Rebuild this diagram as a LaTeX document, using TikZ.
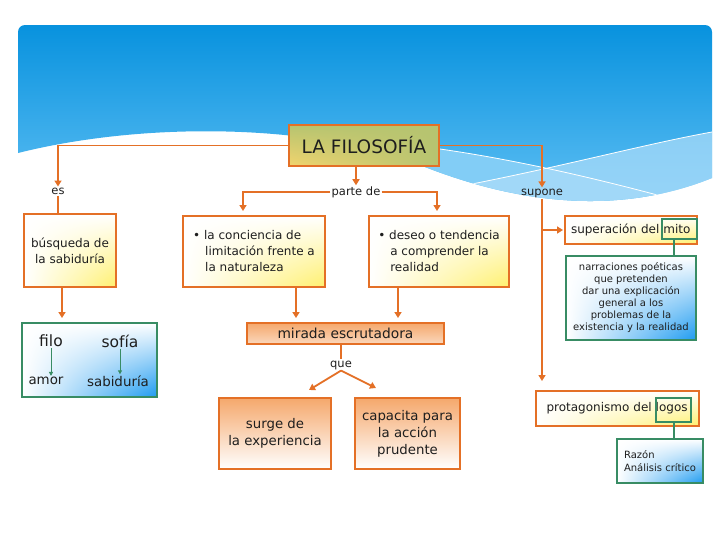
\documentclass[tikz,border=0pt]{standalone}
\usepackage{fontspec}
\setmainfont{DejaVu Sans}
\usetikzlibrary{arrows.meta,positioning,shadings}

\definecolor{orng}{RGB}{228,112,38}
\definecolor{grn}{RGB}{56,140,100}
\definecolor{ylw}{RGB}{255,240,110}
\definecolor{blu}{RGB}{30,155,240}
\definecolor{oliv}{RGB}{182,196,112}
\definecolor{sand}{RGB}{242,212,110}
\definecolor{orfill}{RGB}{245,168,108}
\definecolor{hdtop}{RGB}{8,146,222}
\definecolor{hdbot}{RGB}{100,194,245}
\definecolor{hdwave}{RGB}{130,205,246}
\definecolor{hdwaveb}{RGB}{175,222,250}
\definecolor{ink}{RGB}{30,30,30}

\newcommand\hdpath{(18,153) -- (18,25) -- (712,25) -- (712,178)
  .. controls (620,215) and (520,205) .. (420,165)
  .. controls (320,125) and (150,120) .. (18,153) -- cycle}

\tikzset{
  conn/.style={draw=orng, line width=1.8pt, -{Triangle[width=7pt,length=6pt]}},
  plain/.style={draw=orng, line width=1.8pt},
  gconn/.style={draw=grn, line width=1pt, -{Triangle[width=4pt,length=4pt]}},
  gline/.style={draw=grn, line width=2pt},
  lbl/.style={text=ink, font=\fontsize{11.5}{14}\selectfont, inner sep=1pt},
  ybox/.style={draw=orng, line width=2pt, text=ink, inner sep=0pt,
    font=\fontsize{12}{16}\selectfont, shading=bilinear interpolation,
    upper left=white, upper right=white, lower left=white, lower right=ylw},
  gbox/.style={draw=grn, line width=2pt, text=ink, inner sep=0pt,
    shading=bilinear interpolation,
    upper left=white, upper right=white, lower left=white, lower right=blu},
  obox/.style={draw=orng, line width=2pt, top color=orfill, bottom color=white,
    text=ink, inner sep=0pt, font=\fontsize{13.3}{17}\selectfont},
  markbox/.style={draw=grn, line width=2pt, inner sep=0pt},
}

\begin{document}
\begin{tikzpicture}[x=1pt,y=-1pt]
  \useasboundingbox (0,0) rectangle (728,546);
  \fill[white] (0,0) rectangle (728,546);

  % Header band
  \shade[top color=hdtop, bottom color=hdbot] (18,153) [rounded corners=7pt]
    -- (18,25) -- (712,25) [sharp corners] -- (712,178)
    .. controls (620,215) and (520,205) .. (420,165)
    .. controls (320,125) and (150,120) .. (18,153) -- cycle;
  \begin{scope}
    \clip \hdpath;
    \fill[hdwave] (200,138) .. controls (360,130) and (500,150) .. (712,210)
      -- (712,240) -- (200,240) -- cycle;
    \fill[hdwaveb, opacity=0.7] (440,190) .. controls (550,170) and (640,145) .. (712,132)
      -- (712,240) -- (440,240) -- cycle;
    \draw[white, line width=0.8pt] (200,138) .. controls (360,130) and (500,150) .. (712,210);
    \draw[white, line width=0.8pt] (440,190) .. controls (550,170) and (640,145) .. (712,132);
  \end{scope}

  % Main concept
  \node[draw=orng, line width=2.5pt, text=ink, inner sep=0pt,
    shading=bilinear interpolation,
    upper left=oliv, upper right=oliv, lower left=sand, lower right=oliv,
    minimum width=150pt, minimum height=41pt, font=\fontsize{18.5}{22}\selectfont]
    (filo) at (364,145.5) {LA FILOSOFÍA};

  % Link words
  \node[lbl] (es) at (58,191) {es};
  \node[lbl] (parte) at (356,192) {parte de};
  \node[lbl] (supone) at (542,193) {supone};
  \node[lbl] (que) at (341,365) {que};

  % Left branch
  \node[ybox, minimum width=92pt, minimum height=73pt, align=center]
    (busq) at (70,250.5) {búsqueda de\\la sabiduría};
  \node[gbox, minimum width=135pt, minimum height=74pt] (etym) at (89.5,360) {};
  \node[text=ink, font=\fontsize{15.5}{18}\selectfont, inner sep=1pt] (filoword) at (51,341) {filo};
  \node[text=ink, font=\fontsize{15.5}{18}\selectfont, inner sep=1pt] (sofia) at (120,341) {sofía};
  \node[text=ink, font=\fontsize{13.4}{16}\selectfont, inner sep=1pt] (amor) at (46,381) {amor};
  \node[text=ink, font=\fontsize{13.4}{16}\selectfont, inner sep=1pt] (sabid) at (118,381) {sabiduría};

  % Middle branch
  \node[ybox, minimum width=142pt, minimum height=71pt, align=left]
    (conc) at (254,251.5) {• la conciencia de\\\hspace*{12pt}limitación frente a\\\hspace*{12pt}la naturaleza};
  \node[ybox, minimum width=140pt, minimum height=71pt, align=left]
    (deseo) at (439,251.5) {• deseo o tendencia\\\hspace*{12pt}a comprender la\\\hspace*{12pt}realidad};
  \node[obox, top color=orfill, bottom color=orfill!45, minimum width=197pt, minimum height=21pt,
    font=\fontsize{13.8}{17}\selectfont] (mirada) at (345.5,333.5) {mirada escrutadora};
  \node[obox, minimum width=112pt, minimum height=71pt, align=center]
    (surge) at (275,433.5) {surge de\\la experiencia};
  \node[obox, minimum width=105pt, minimum height=71pt, align=center]
    (capac) at (407.5,433.5) {capacita para\\la acción\\prudente};
  \coordinate (qL) at (309,390);
  \coordinate (qR) at (376,388);

  % Right branch
  \node[ybox, minimum width=132pt, minimum height=28pt, text width=120pt, align=left]
    (mito) at (631,230) {superación del mito};
  \node[markbox, minimum width=35pt, minimum height=20pt] (mitobox) at (679.5,229) {};
  \node[gbox, minimum width=130pt, minimum height=84pt, align=center,
    font=\fontsize{10}{12}\selectfont]
    (narr) at (631,298) {narraciones poéticas\\que pretenden\\dar una explicación\\general a los\\problemas de la\\existencia y la realidad};
  \node[ybox, minimum width=163pt, minimum height=35pt, text width=142pt, align=left]
    (protag) at (617.5,408.5) {protagonismo del logos};
  \node[markbox, minimum width=35pt, minimum height=24pt] (logosbox) at (673.5,410) {};
  \node[gbox, minimum width=86pt, minimum height=44pt, align=left,
    font=\fontsize{10}{13}\selectfont] (razon) at (660,461) {Razón\\Análisis crítico};

  % Connectors from the main concept
  \draw[conn] (filo.west) -| (es.north);
  \draw[plain] (es.south) -- (es.south |- busq.north);
  \draw[conn] (parte.north |- filo.south) -- (parte.north);
  \draw[conn, shorten >=4pt] (parte.west) -| ([xshift=-11pt]conc.north);
  \draw[conn, shorten >=4pt] (parte.east) -| ([xshift=-2pt]deseo.north);
  \draw[conn] (filo.east) -| (supone.north);
  \draw[conn, shorten >=9pt] (supone.south) -- (supone.south |- protag.north);
  \draw[conn, shorten >=1pt] (supone.south |- mito.west) -- (mito.west);

  % Connectors below
  \draw[conn, shorten >=4pt] ([xshift=-8pt]busq.south) -- ([xshift=-8pt]busq.south |- etym.north);
  \draw[gconn] (filoword.south) -- (amor.north -| filoword.south);
  \draw[gconn] (sofia.south) -- (sabid.north -| sofia.south);
  \draw[conn, shorten >=4pt] ([xshift=42pt]conc.south) -- ([xshift=42pt]conc.south |- mirada.north);
  \draw[conn, shorten >=4pt] ([xshift=-41pt]deseo.south) -- ([xshift=-41pt]deseo.south |- mirada.north);
  \draw[plain] (que.north |- mirada.south) -- (que.north);
  \draw[conn] (que.south) -- (qL);
  \draw[conn] (que.south) -- (qR);
  \draw[gline] ([xshift=-6pt]mitobox.south) -- ([xshift=-6pt]mitobox.south |- narr.north);
  \draw[gline] (logosbox.south) -- (logosbox.south |- razon.north);
\end{tikzpicture}
\end{document}
